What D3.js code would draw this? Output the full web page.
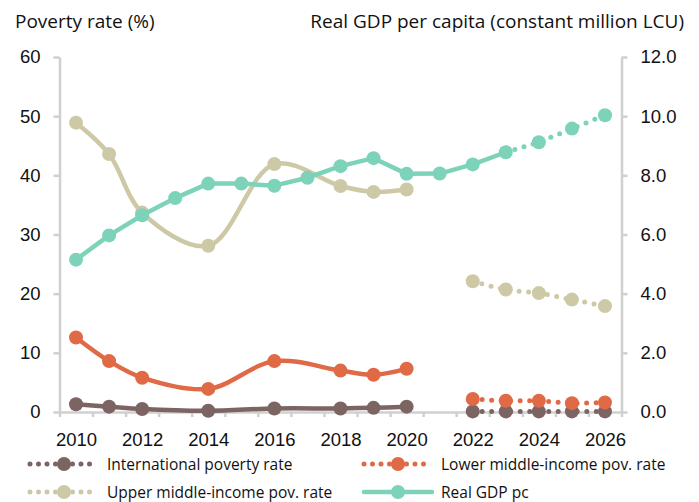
<!DOCTYPE html>
<html>
<head>
<meta charset="utf-8">
<script src="https://cdn.jsdelivr.net/npm/d3@7"></script>
<style>
  body { margin: 0; background: #fff; }
  svg { display: block; font-family: "Open Sans", "Noto Sans", sans-serif; }
</style>
</head>
<body>
<svg id="chart" width="699" height="502"></svg>
<script>
'use strict';

// years with data points
var years = [2010, 2011, 2012, 2014, 2016, 2018, 2019, 2020, 2022, 2023, 2024, 2025, 2026];
var intlPov  = [1.3, 0.9, 0.5, 0.2, 0.6, 0.6, 0.7, 0.9, 0.1, 0.1, 0.1, 0.1, 0.1];
var lowerPov = [12.6, 8.6, 5.8, 3.9, 8.6, 7.0, 6.3, 7.3, 2.2, 1.9, 1.9, 1.5, 1.6];
var upperPov = [48.9, 43.6, 33.7, 28.1, 41.9, 38.2, 37.2, 37.6, 22.1, 20.7, 20.1, 19.0, 17.9];

var gdpYears = [2010, 2011, 2012, 2013, 2014, 2015, 2016, 2017, 2018, 2019, 2020, 2021, 2022, 2023, 2024, 2025, 2026];
var gdpPc    = [5.15, 5.97, 6.65, 7.23, 7.72, 7.72, 7.65, 7.92, 8.31, 8.58, 8.05, 8.06, 8.37, 8.78, 9.12, 9.58, 10.03];

var leftTicks  = [0, 10, 20, 30, 40, 50, 60];
var rightTicks = [0, 2, 4, 6, 8, 10, 12];
var yearLabels = [2010, 2012, 2014, 2016, 2018, 2020, 2022, 2024, 2026];
var lastActual = 2020, firstGdpProj = 2023;

var colors = { intl: '#7c6462', lower: '#e06a46', upper: '#cdc9a6', gdp: '#7dd3b9' };

var svg = d3.select('#chart');
var x = d3.scaleLinear().domain([2009.5, 2026.5]).range([59.5, 621.5]);
var yL = d3.scaleLinear().domain([0, 60]).range([412, 57]);
var yR = d3.scaleLinear().domain([0, 12]).range([412, 57]);

var axisColor = '#d0d0d0';
function styleAxis(g) {
	g.selectAll('path, line').attr('stroke', axisColor).attr('stroke-width', 2.5);
	g.selectAll('text').attr('fill', '#111').style('font-size', '18.5px');
}

// x axis: ticks between categories, labels every 2 years
var boundaries = d3.range(2009.5, 2027, 1);
svg.append('g').attr('transform', 'translate(0,412)')
	.call(d3.axisBottom(x).tickValues(boundaries).tickFormat('').tickSize(5).tickSizeOuter(0))
	.call(styleAxis);
svg.append('g').attr('transform', 'translate(0,412)')
	.call(d3.axisBottom(x).tickValues(yearLabels).tickFormat(d3.format('d')).tickSize(0).tickPadding(21))
	.call(styleAxis)
	.call(function(g) { g.select('.domain').remove(); });

svg.append('g').attr('transform', 'translate(59.5,0)')
	.call(d3.axisLeft(yL).tickValues(leftTicks).tickSize(6).tickSizeOuter(0).tickPadding(13))
	.call(styleAxis);
svg.append('g').attr('transform', 'translate(621.5,0)')
	.call(d3.axisRight(yR).tickValues(rightTicks).tickFormat(d3.format('.1f')).tickSize(6).tickSizeOuter(0).tickPadding(13))
	.call(styleAxis);

// titles
svg.append('text').attr('x', 15).attr('y', 28).text('Poverty rate (%)')
	.style('font-size', '19px').attr('fill', '#111');
svg.append('text').attr('x', 684).attr('y', 28).attr('text-anchor', 'end')
	.text('Real GDP per capita (constant million LCU)')
	.style('font-size', '19px').attr('fill', '#111');

var smooth = d3.curveCatmullRom.alpha(0.5);

function drawSeries(xs, vs, yScale, color, splitAt, curve, dottedStart) {
	var pts = xs.map(function(d, i) { return { x: d, v: vs[i] }; });
	var solid = pts.filter(function(p) { return p.x <= splitAt; });
	var dotted = pts.filter(function(p) { return p.x >= dottedStart; });
	var line = d3.line().x(function(p) { return x(p.x); }).y(function(p) { return yScale(p.v); }).curve(curve);
	svg.append('path').attr('d', line(solid)).attr('fill', 'none')
		.attr('stroke', color).attr('stroke-width', 4.5).attr('stroke-linejoin', 'round');
	svg.append('path').attr('d', line(dotted)).attr('fill', 'none')
		.attr('stroke', color).attr('stroke-width', 5).attr('stroke-linecap', 'round')
		.attr('stroke-dasharray', '0 9.5');
	svg.append('g').selectAll('circle').data(pts).join('circle')
		.attr('cx', function(p) { return x(p.x); })
		.attr('cy', function(p) { return yScale(p.v); })
		.attr('r', 7).attr('fill', color);
}

drawSeries(years, intlPov, yL, colors.intl, lastActual, smooth, 2022);
drawSeries(years, lowerPov, yL, colors.lower, lastActual, smooth, 2022);
drawSeries(years, upperPov, yL, colors.upper, lastActual, smooth, 2022);
drawSeries(gdpYears, gdpPc, yR, colors.gdp, firstGdpProj, d3.curveLinear, firstGdpProj);

// legend
var legend = [
	{ name: 'International poverty rate', color: colors.intl, dotted: true, lx: 30, ly: 464 },
	{ name: 'Lower middle-income pov. rate', color: colors.lower, dotted: true, lx: 364, ly: 464 },
	{ name: 'Upper middle-income pov. rate', color: colors.upper, dotted: true, lx: 30, ly: 492 },
	{ name: 'Real GDP pc', color: colors.gdp, dotted: false, lx: 364, ly: 492 }
];
var lg = svg.append('g').selectAll('g').data(legend).join('g')
	.attr('transform', function(d) { return 'translate(' + d.lx + ',' + d.ly + ')'; });
lg.append('line').attr('x1', 0).attr('x2', 68).attr('y1', 0).attr('y2', 0)
	.attr('stroke', function(d) { return d.color; })
	.attr('stroke-width', function(d) { return d.dotted ? 5 : 4.5; })
	.attr('stroke-linecap', 'round')
	.attr('stroke-dasharray', function(d) { return d.dotted ? '0 8.5' : null; });
lg.append('circle').attr('cx', 34).attr('cy', 0).attr('r', 7).attr('fill', function(d) { return d.color; });
lg.append('text').attr('x', 77).attr('y', 5.5).text(function(d) { return d.name; })
	.style('font-size', '15.5px').attr('fill', '#111');
</script>
</body>
</html>
